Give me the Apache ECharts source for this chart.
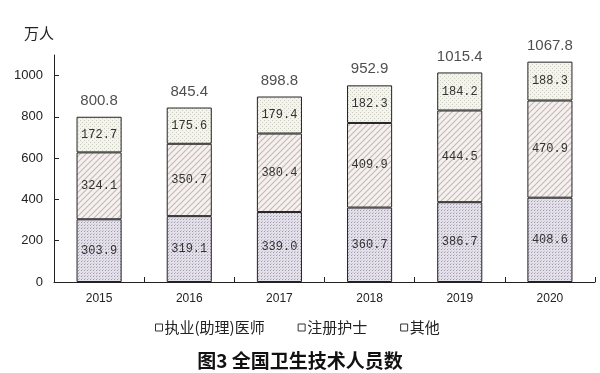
<!DOCTYPE html>
<html>
<head>
<meta charset="utf-8">
<script src="https://cdn.jsdelivr.net/npm/echarts@6/dist/echarts.min.js"></script>
<style>
html,body{margin:0;padding:0;background:#fff;}
#chart{width:600px;height:373px;}
</style>
</head>
<body>
<div id="chart"></div>
<script>
const years = ['2015','2016','2017','2018','2019','2020'];
const doctors = [303.9, 319.1, 339.0, 360.7, 386.7, 408.6];
const nurses = [324.1, 350.7, 380.4, 409.9, 444.5, 470.9];
const others = [172.7, 175.6, 179.4, 182.3, 184.2, 188.3];
const totals = [800.8, 845.4, 898.8, 952.9, 1015.4, 1067.8];
const yTicks = [0, 200, 400, 600, 800, 1000];
const seriesNames = ['执业(助理)医师', '注册护士', '其他'];

function pattern(kind) {
  const c = document.createElement('canvas');
  const ctx = c.getContext('2d');
  if (kind === 'dots') {
    c.width = 3; c.height = 3;
    ctx.fillStyle = '#e3e0ea'; ctx.fillRect(0,0,3,3);
    ctx.fillStyle = '#a29bae'; ctx.fillRect(0,0,1,1);
    ctx.fillStyle = '#c4bece'; ctx.fillRect(1,2,1,1);
  } else if (kind === 'hatch') {
    c.width = 6; c.height = 6;
    ctx.fillStyle = '#f5f1ef'; ctx.fillRect(0,0,6,6);
    ctx.strokeStyle = '#c7b9b7'; ctx.lineWidth = 1.2;
    ctx.beginPath();
    ctx.moveTo(0,6); ctx.lineTo(6,0);
    ctx.moveTo(-3,3); ctx.lineTo(3,-3);
    ctx.moveTo(3,9); ctx.lineTo(9,3);
    ctx.stroke();
  } else {
    c.width = 4; c.height = 4;
    ctx.fillStyle = '#f4f4ee'; ctx.fillRect(0,0,4,4);
    ctx.fillStyle = '#cdcdc1'; ctx.fillRect(0,0,1,1); ctx.fillRect(2,2,1,1);
  }
  return {image: c, repeat: 'repeat'};
}

const labelStyle = {
  show: true, position: 'inside', color: '#333',
  fontFamily: 'Liberation Mono', fontSize: 12
};
function barSeries(name, data, kind) {
  return {
    name: name, type: 'bar', stack: 'total', data: data, barWidth: '50%',
    itemStyle: {color: pattern(kind), borderColor: '#222', borderWidth: 1},
    label: Object.assign({}, labelStyle, {formatter: p => p.value.toFixed(1)}),
    emphasis: {disabled: true}
  };
}

const chart = echarts.init(document.getElementById('chart'), null, {renderer: 'canvas'});
chart.setOption({
  animation: false,
  backgroundColor: '#fff',
  textStyle: {fontFamily: 'Liberation Sans'},
  grid: {left: 54, right: 5, top: 55, bottom: 91},
  title: {
    text: '图3 全国卫生技术人员数', left: 'center', top: 346,
    textStyle: {fontFamily: 'Noto Sans CJK SC', fontSize: 19, fontWeight: 'bold', color: '#111'}
  },
  legend: {
    data: seriesNames, left: 150, top: 315, icon: 'rect', itemWidth: 7, itemHeight: 7,
    itemGap: 33,
    itemStyle: {color: '#fff', borderColor: '#333', borderWidth: 1},
    textStyle: {fontFamily: 'Noto Sans CJK SC', fontSize: 15, color: '#222', padding: [0,0,0,-3]}
  },
  xAxis: {
    type: 'category', data: years,
    axisLine: {lineStyle: {color: '#222', width: 1}},
    axisTick: {show: true, inside: true, length: 5, lineStyle: {color: '#222'}},
    axisLabel: {color: '#222', fontSize: 12, margin: 11, fontFamily: 'Liberation Sans'}
  },
  yAxis: {
    type: 'value', min: 0, max: 1100, interval: 100,
    name: '万人', nameLocation: 'end', nameGap: 14,
    nameTextStyle: {fontFamily: 'Noto Sans CJK SC', fontSize: 15, color: '#222', align: 'right'},
    axisLine: {show: true, lineStyle: {color: '#222', width: 1}},
    axisTick: {show: true, inside: true, length: 5, customValues: yTicks, lineStyle: {color: '#222'}},
    axisLabel: {color: '#222', fontSize: 13, margin: 11, customValues: yTicks,
                fontFamily: 'Liberation Sans', formatter: v => String(v)},
    splitLine: {show: false}
  },
  series: [
    barSeries(seriesNames[0], doctors, 'dots'),
    barSeries(seriesNames[1], nurses, 'hatch'),
    barSeries(seriesNames[2], others, 'fine'),
    {
      name: 'total', type: 'scatter', data: totals, symbolSize: 1,
      itemStyle: {color: 'rgba(0,0,0,0)'}, silent: true,
      label: {show: true, position: 'top', distance: 8, color: '#222', fontSize: 15,
              fontFamily: 'Liberation Sans', formatter: p => p.value.toFixed(1)}
    }
  ]
});
</script>
</body>
</html>
